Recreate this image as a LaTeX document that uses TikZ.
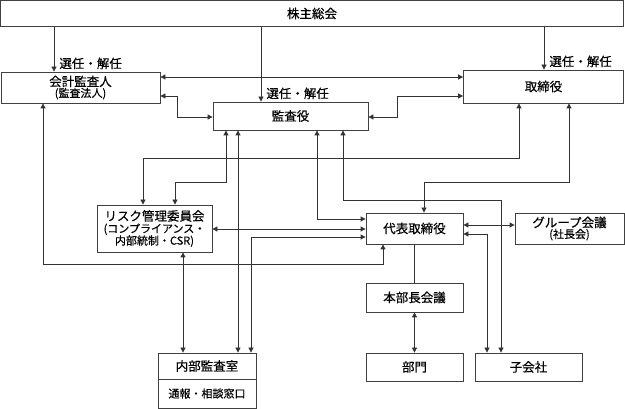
\documentclass[tikz,border=0pt]{standalone}
\usepackage{fontspec}
\setmainfont[FakeBold=0.5]{Noto Sans CJK JP}
\usepackage{tikz}
\usetikzlibrary{arrows.meta}

\tikzset{
  box/.style={draw=black!75, line width=0.8pt, inner sep=1pt, align=center, fill=white},
  arr/.style={-{Triangle[length=5pt,width=5pt]}},
  darr/.style={{Triangle[length=5pt,width=5pt]}-{Triangle[length=5pt,width=5pt]}},
  lbl/.style={anchor=south west, inner sep=2pt, xshift=3pt}
}
\newcommand{\bigtxt}{\fontsize{12.5pt}{13pt}\selectfont}
\newcommand{\smltxt}{\fontsize{11pt}{13pt}\selectfont}

\begin{document}
\begin{tikzpicture}[x=1pt, y=-1pt, line width=0.8pt, draw=black!80, font=\bigtxt]
    \useasboundingbox (0,0) rectangle (625,409);

    % Boxes
    \node[box, minimum width=623pt, minimum height=26pt] (kabu) at (312,13.5) {株主総会};
    \node[box, minimum width=159pt, minimum height=31pt] (kaikei) at (80.5,87.5) {会計監査人\\[-2pt]{\smltxt (監査法人)}};
    \node[box, minimum width=155pt, minimum height=28pt] (kansa) at (290.5,116) {監査役};
    \node[box, minimum width=160pt, minimum height=33pt] (tori) at (543.5,86.5) {取締役};
    \node[box, minimum width=115pt, minimum height=47pt] (risk) at (154.5,228.5)
        {リスク管理委員会\\[-1pt]{\smltxt (コンプライアンス・}\\[-1pt]{\smltxt 内部統制・CSR)}};
    \node[box, minimum width=97pt, minimum height=31pt] (daihyo) at (414.5,228.5) {代表取締役};
    \node[box, minimum width=109pt, minimum height=31pt] (group) at (569.5,228.5) {グループ会議\\[-2pt]{\smltxt (社長会)}};
    \node[box, minimum width=97pt, minimum height=29pt] (honbu) at (414.5,297.5) {本部長会議};
    \node[box, minimum width=97pt, minimum height=28pt] (bumon) at (414.5,367) {部門};
    \node[box, minimum width=107pt, minimum height=28pt] (kogaisha) at (528.5,367) {子会社};
    \node[box, minimum width=98pt, minimum height=26pt] (naibu) at (207,366) {内部監査室};
    \node[box, minimum width=98pt, minimum height=29pt, font=\smltxt] (madoguchi) at (207,393.5) {通報・相談窓口};

    % Appointment from the shareholders
    \draw[arr] (54,0 |- kabu.south) -- (54,0 |- kaikei.north) node[lbl, pos=1] {選任・解任};
    \draw[arr] (261,0 |- kabu.south) -- (261,0 |- kansa.north) node[lbl, pos=1] {選任・解任};
    \draw[arr] (544,0 |- kabu.south) -- (544,0 |- tori.north) node[lbl, pos=1] {選任・解任};

    % Upper links
    \draw[darr] (kaikei.east |- 0,77) -- (tori.west |- 0,77);
    \draw[darr] (kaikei.east |- 0,96) -| (177,117) -- (kansa.west |- 0,117);
    \draw[darr] (kansa.east |- 0,117) -| (397,96) -- (tori.west |- 0,96);

    % Risk committee
    \draw[darr] (226,0 |- kansa.south) |- (175,182) -- (175,0 |- risk.north);
    \draw[darr] (519,0 |- tori.south) |- (143,158) -- (143,0 |- risk.north);
    \draw[darr] (risk.east |- 0,229) -- (daihyo.west |- 0,229);
    \draw[darr] (183,0 |- risk.south) -- (183,0 |- naibu.north);

    % Internal audit
    \draw[darr] (238,0 |- kansa.south) -- (238,0 |- naibu.north);
    \draw[darr] (251,0 |- naibu.north) |- (daihyo.west |- 0,237);

    % Representative director
    \draw[darr] (317,0 |- kansa.south) |- (daihyo.west |- 0,219);
    \draw[darr] (569,0 |- tori.south) |- (424,182) -- (424,0 |- daihyo.north);
    \draw[darr] (43,0 |- kaikei.south) |- (383,264) -- (383,0 |- daihyo.south);
    \draw[darr] (daihyo.east |- 0,225) -- (group.west |- 0,225);

    % Subsidiaries
    \draw[darr] (343,0 |- kansa.south) |- (501,200) -- (501,0 |- kogaisha.north);
    \draw[darr] (daihyo.east |- 0,234) -| (487,0 |- kogaisha.north);

    % Divisions
    \draw (daihyo.south) -- (honbu.north);
    \draw[darr] (honbu.south) -- (bumon.north);
\end{tikzpicture}
\end{document}
